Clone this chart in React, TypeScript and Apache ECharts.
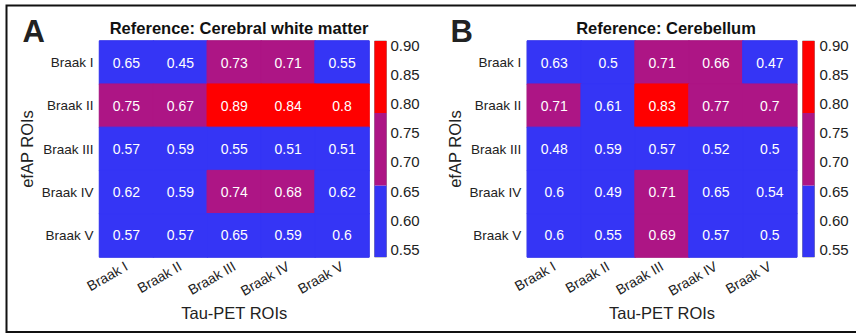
import React, { useEffect, useRef } from "react";
import * as echarts from "echarts";

const categories = ["Braak I", "Braak II", "Braak III", "Braak IV", "Braak V"];

// rows = efAP ROIs (Braak I..V), columns = Tau-PET ROIs (Braak I..V)
const valuesA: number[][] = [
  [0.65, 0.45, 0.73, 0.71, 0.55],
  [0.75, 0.67, 0.89, 0.84, 0.8],
  [0.57, 0.59, 0.55, 0.51, 0.51],
  [0.62, 0.59, 0.74, 0.68, 0.62],
  [0.57, 0.57, 0.65, 0.59, 0.6],
];
const valuesB: number[][] = [
  [0.63, 0.5, 0.71, 0.66, 0.47],
  [0.71, 0.61, 0.83, 0.77, 0.7],
  [0.48, 0.59, 0.57, 0.52, 0.5],
  [0.6, 0.49, 0.71, 0.65, 0.54],
  [0.6, 0.55, 0.69, 0.57, 0.5],
];

const titleA = "Reference: Cerebral white matter";
const titleB = "Reference: Cerebellum";
const colorbarTicks = [0.55, 0.6, 0.65, 0.7, 0.75, 0.8, 0.85, 0.9];
const colorbarMin = 0.537;
const colorbarMax = 0.907;
const thresholds = [0.6595, 0.7835];
const binColors = ["#3535f5", "#ad1585", "#ff0000"];

const FONT = "Liberation Sans, Arial, Helvetica, sans-serif";

function binColor(v: number) {
  if (v < thresholds[0]) return binColors[0];
  if (v < thresholds[1]) return binColors[1];
  return binColors[2];
}

function toHeat(vals: number[][]) {
  const out: any[] = [];
  vals.forEach((row, r) =>
    row.forEach((v, c) => {
      const col = binColor(v);
      out.push({ value: [c, r, v], itemStyle: { borderColor: col, borderWidth: 1 } });
    })
  );
  return out;
}

export default function App() {
  const ref = useRef<HTMLDivElement>(null);
  useEffect(() => {
    if (!ref.current) return;
    const chart = echarts.init(ref.current, undefined, { renderer: "svg" });

    const grids = [
      { left: 99.5, top: 41, width: 269.5, height: 216 },
      { left: 527.3, top: 41, width: 269.5, height: 216 },
    ];
    const cbGrids = [
      { left: 374.5, top: 41, width: 12, height: 216 },
      { left: 802.5, top: 41, width: 12, height: 216 },
    ];

    const cbBins = [
      [0, colorbarMin, thresholds[0], 0],
      [0, thresholds[0], thresholds[1], 1],
      [0, thresholds[1], colorbarMax, 2],
    ];

    const xAxes: any[] = [];
    const yAxes: any[] = [];
    const gridList: any[] = [];
    const series: any[] = [];

    [0, 1].forEach((i) => {
      gridList.push({ ...grids[i], show: true, borderColor: "#9a9a9a", borderWidth: 1, backgroundColor: "transparent" });
      xAxes.push({
        type: "category",
        gridIndex: i,
        data: categories,
        position: "bottom",
        axisLine: { show: false },
        axisTick: { show: false },
        splitLine: { show: false },
        axisLabel: { rotate: 30, margin: 8, fontSize: 14, color: "#222", fontFamily: FONT },
        name: "Tau-PET ROIs",
        nameLocation: "middle",
        nameGap: 46,
        nameTextStyle: { fontSize: 16.5, color: "#222", fontFamily: FONT },
      });
      yAxes.push({
        type: "category",
        gridIndex: i,
        data: categories,
        inverse: true,
        axisLine: { show: false },
        axisTick: { show: false },
        splitLine: { show: false },
        axisLabel: { margin: 6, fontSize: 13.5, color: "#222", fontFamily: FONT },
        name: "efAP ROIs",
        nameLocation: "middle",
        nameRotate: 90,
        nameGap: 64,
        nameTextStyle: { fontSize: 16.5, color: "#222", fontFamily: FONT },
      });
    });
    [0, 1].forEach((i) => {
      gridList.push({ ...cbGrids[i], show: true, borderColor: "#9a9a9a", borderWidth: 1, backgroundColor: "transparent" });
      xAxes.push({
        type: "category",
        gridIndex: 2 + i,
        data: ["cb"],
        show: false,
      });
      yAxes.push({
        type: "value",
        gridIndex: 2 + i,
        min: colorbarMin,
        max: colorbarMax,
        position: "right",
        axisLine: { show: false },
        axisTick: { show: false },
        splitLine: { show: false },
        axisLabel: {
          customValues: colorbarTicks,
          margin: i === 0 ? 4 : 5,
          fontSize: 15,
          color: "#222",
          fontFamily: FONT,
          formatter: (v: number) => v.toFixed(2),
        },
      });
    });

    [valuesA, valuesB].forEach((vals, i) => {
      series.push({
        type: "heatmap",
        xAxisIndex: i,
        yAxisIndex: i,
        data: toHeat(vals),
        label: {
          show: true,
          color: "#ffffff",
          fontSize: 14,
          fontFamily: FONT,
          formatter: (p: any) => String(p.value[2]),
        },
        emphasis: { disabled: true },
      });
    });

    [0, 1].forEach((i) => {
      series.push({
        type: "custom",
        xAxisIndex: 2 + i,
        yAxisIndex: 2 + i,
        data: cbBins,
        renderItem: (params: any, api: any) => {
          const lo = api.coord([0, api.value(1)]);
          const hi = api.coord([0, api.value(2)]);
          const w = api.size([1, 0])[0];
          return {
            type: "rect",
            shape: { x: hi[0] - w / 2, y: hi[1], width: w, height: lo[1] - hi[1] },
            style: { fill: binColors[api.value(3)] },
          };
        },
      });
    });

    chart.setOption({
      animation: false,
      backgroundColor: "#ffffff",
      title: [
        {
          text: titleA,
          left: 234,
          top: 14,
          textAlign: "center",
          textStyle: { fontSize: 16.5, fontWeight: "bold", color: "#111", fontFamily: FONT },
        },
        {
          text: titleB,
          left: 661,
          top: 14,
          textAlign: "center",
          textStyle: { fontSize: 16.5, fontWeight: "bold", color: "#111", fontFamily: FONT },
        },
      ],
      visualMap: [
        {
          type: "piecewise",
          show: false,
          seriesIndex: [0, 1],
          dimension: 2,
          pieces: [
            { lt: thresholds[0], color: binColors[0] },
            { gte: thresholds[0], lt: thresholds[1], color: binColors[1] },
            { gte: thresholds[1], color: binColors[2] },
          ],
        },
      ],
      grid: gridList,
      xAxis: xAxes,
      yAxis: yAxes,
      series,
      graphic: [
        {
          type: "rect",
          shape: { x: 6.5, y: 5.5, width: 900, height: 326.5 },
          style: { fill: "none", stroke: "#111", lineWidth: 2 },
          silent: true,
        },
        {
          type: "text",
          x: 22.5,
          y: 31,
          style: { text: "A", fontSize: 31, fontWeight: "bold", fill: "#222", fontFamily: FONT, verticalAlign: "middle" },
        },
        {
          type: "text",
          x: 450.5,
          y: 31,
          style: { text: "B", fontSize: 31, fontWeight: "bold", fill: "#222", fontFamily: FONT, verticalAlign: "middle" },
        },
      ],
    });
    return () => chart.dispose();
  }, []);
  return (
    <div
      ref={ref}
      style={{ position: "fixed", left: 0, top: 0, width: 856, height: 335 }}
    />
  );
}
